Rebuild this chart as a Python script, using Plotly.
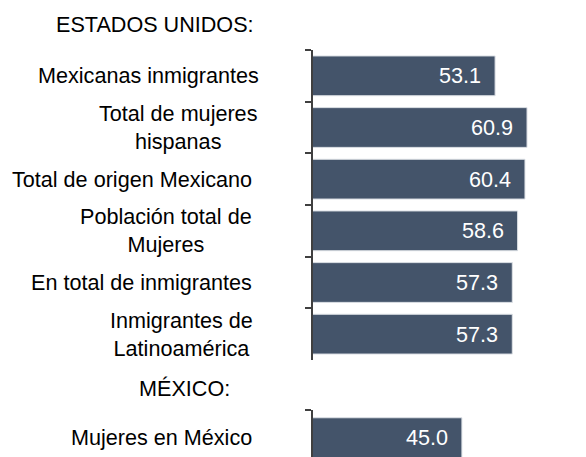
import plotly.graph_objects as go

# ---- data ----
us_categories = [
    "Mexicanas inmigrantes",
    "Total de mujeres<br>hispanas",
    "Total de origen Mexicano",
    "Población total de<br>Mujeres",
    "En total de inmigrantes",
    "Inmigrantes de<br>Latinoamérica",
]
us_values = [53.1, 60.9, 60.4, 58.6, 57.3, 57.3]
mx_categories = ["Mujeres en México"]
mx_values = [45.0]
group_titles = ["ESTADOS UNIDOS:", "MÉXICO:"]

# ---- style ----
W, H = 586, 457
FONT = "Liberation Sans, Arial, sans-serif"
FS = 21.6
BAR = "#44546A"
AXIS = "#404040"
L = 313  # left edge of plot area in px
us_label_shift = [-52, -53, -59, -59, -59, -58]
mx_label_shift = [-59]

def py(px):
    return 1 - px / H

fig = go.Figure()
fig.add_trace(go.Bar(
    x=us_values, y=us_categories, orientation="h",
    marker=dict(color=BAR, line=dict(color="#dde1e6", width=1)),
    width=0.77, xaxis="x", yaxis="y", hoverinfo="skip",
))
fig.add_trace(go.Bar(
    x=mx_values, y=mx_categories, orientation="h",
    marker=dict(color=BAR, line=dict(color="#dde1e6", width=1)),
    width=0.72, xaxis="x2", yaxis="y2", hoverinfo="skip",
))

xr = [8.64, 75.3]
common_x = dict(range=xr, visible=False, fixedrange=True)
ycommon = dict(type="category", showticklabels=False, showgrid=False, zeroline=False,
               showline=True, linecolor=AXIS, linewidth=2, fixedrange=True,
               ticks="outside", tickson="boundaries", ticklen=6, tickcolor=AXIS, tickwidth=1.5)

fig.update_layout(
    width=W, height=H,
    margin=dict(l=L, r=0, t=0, b=0),
    paper_bgcolor="white", plot_bgcolor="white",
    showlegend=False,
    font=dict(family=FONT, size=FS, color="black"),
    xaxis=dict(**common_x, anchor="y"),
    xaxis2=dict(**common_x, anchor="y2"),
    yaxis=dict(**ycommon, domain=[py(360), py(50)], range=[5.5, -0.5], anchor="x"),
    yaxis2=dict(**ycommon, domain=[0, py(410)], range=[0.348, -0.5], anchor="x2"),
    bargap=0.2,
)

ann = []
for cat, v, sh in zip(us_categories, us_values, us_label_shift):
    ann.append(dict(x=0, xref="paper", y=cat, yref="y", text=cat, showarrow=False,
                    xanchor="right", yanchor="middle", align="center", xshift=sh,
                    font=dict(size=FS, color="black", family=FONT)))
    ann.append(dict(x=v, xref="x", y=cat, yref="y", text=f"{v:.1f}", showarrow=False,
                    xanchor="right", yanchor="middle", xshift=-12,
                    font=dict(size=FS, color="white", family=FONT)))
for cat, v, sh in zip(mx_categories, mx_values, mx_label_shift):
    ann.append(dict(x=0, xref="paper", y=cat, yref="y2", text=cat, showarrow=False,
                    xanchor="right", yanchor="middle", align="center", xshift=sh,
                    font=dict(size=FS, color="black", family=FONT)))
    ann.append(dict(x=v, xref="x2", y=cat, yref="y2", text=f"{v:.1f}", showarrow=False,
                    xanchor="right", yanchor="middle", xshift=-12,
                    font=dict(size=FS, color="white", family=FONT)))

ann.append(dict(x=0, xref="paper", y=py(25), yref="paper", text=group_titles[0], showarrow=False,
                xanchor="center", yanchor="middle", xshift=155 - L,
                font=dict(size=FS, color="black", family=FONT)))
ann.append(dict(x=0, xref="paper", y=py(388), yref="paper", text=group_titles[1], showarrow=False,
                xanchor="center", yanchor="middle", xshift=184 - L,
                font=dict(size=FS, color="black", family=FONT)))
fig.update_layout(annotations=ann)

fig.write_html("out.html", config={"displayModeBar": False},
               post_script="document.body.style.margin='0px';")
